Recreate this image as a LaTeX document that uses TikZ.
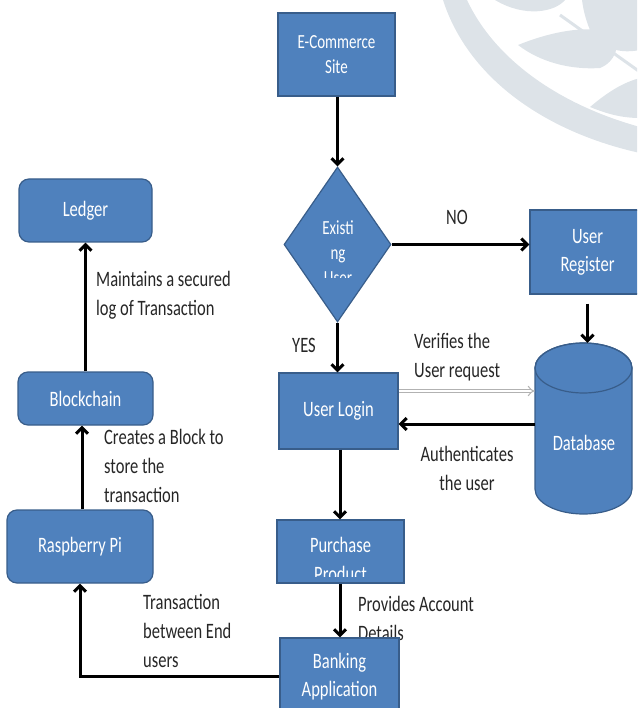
\documentclass[tikz,border=0pt]{standalone}
\usepackage{fontspec}
\setmainfont{Carlito}[FakeStretch=0.75]
\usetikzlibrary{shapes.geometric,arrows.meta}
\definecolor{boxblue}{RGB}{79,129,189}
\definecolor{boxedge}{RGB}{56,93,138}
\definecolor{wm}{RGB}{221,227,232}
\definecolor{labelc}{RGB}{38,38,38}
\tikzset{
  x=1pt,y=-1pt,
  sq/.style={rectangle,fill=boxblue,draw=boxedge,line width=1.2pt,text=white,align=center,inner sep=0pt,
     font=\fontsize{22}{28}\selectfont},
  rr/.style={sq,rounded corners=10pt},
  lbl/.style={text=labelc,inner sep=0pt,font=\fontsize{22}{29}\selectfont},
  arr/.style={line width=3pt,-{Straight Barb[length=6pt,width=12pt]}},
  ghost/.style={draw=black!30,double=white,double distance=2.6pt,line width=1pt,-{Implies[length=8pt,width=12pt]}}
}
\begin{document}
\begin{tikzpicture}
\useasboundingbox (0,0) rectangle (637,708);
\clip (0,0) rectangle (637,708);
% watermark
\fill[wm] (467,0) .. controls (495,60) and (560,105) .. (640,127)
   -- (640,153) .. controls (545,132) and (468,78) .. (443,0) -- cycle;
\fill[wm] (518,45) .. controls (550,32) and (585,25) .. (612,32)
   .. controls (622,45) and (615,62) .. (600,68) .. controls (570,70) and (540,62) .. (518,45) -- cycle;
\fill[wm] (590,107) .. controls (610,90) and (625,82) .. (640,78) -- (640,118) .. controls (620,118) and (605,113) .. (590,107) -- cycle;
\fill[wm] (495,0) -- (565,0) .. controls (555,12) and (525,18) .. (495,0) -- cycle;
\fill[wm] (582,0) -- (640,0) -- (640,50) .. controls (615,55) and (598,45) .. (590,30) .. controls (585,18) and (583,8) .. (582,0) -- cycle;
\draw[wm,line width=3pt] (560,15) -- (640,72);

% nodes
\node[sq,minimum width=117,minimum height=83,font=\fontsize{20}{25}\selectfont] (ecom) at (336.5,54.5) {E-Commerce\\Site};
\node[diamond,fill=boxblue,draw=boxedge,line width=1.2pt,inner sep=0pt,minimum width=107,minimum height=155] (dia) at (337.5,244.5) {};
\begin{scope}
  \clip (280,200) rectangle (395,277);
  \node[text=white,align=center,inner sep=0pt,font=\fontsize{20}{25}\selectfont] (diatext) at (338,253) {Existi\\ng\\User};
\end{scope}
\node[sq,minimum width=115,minimum height=84] (reg) at (587.5,252) {User\\Register};
% database cylinder
\filldraw[fill=boxblue,draw=boxedge,line width=1.2pt]
  (535,368) -- (535,489) arc[start angle=180,end angle=360,x radius=48.5pt,y radius=25pt]
  -- (632,368) arc[start angle=0,end angle=180,x radius=48.5pt,y radius=25pt] -- cycle;
\draw[boxedge,line width=1.2pt] (583.5,368) ellipse[x radius=48.5pt,y radius=25pt];
\node[inner sep=0pt,minimum width=97,minimum height=171] (db) at (583.5,428.5) {};
\node[text=white,inner sep=0pt,font=\fontsize{22}{28}\selectfont] (dbtext) at (584,443) {Database};
\node[sq,minimum width=119,minimum height=76] (login) at (338.5,411) {User Login};

% labels (drawn before the lower boxes)
\node[lbl] (lno) at (457,217) {NO};
\node[lbl] (lyes) at (304,345) {YES};
\node[lbl,align=left,anchor=west] (lver) at (414,357) {Verifies the\\ User request};
\node[lbl,align=center] (lauth) at (467,468) {Authenticates\\the user};
\node[lbl,align=left,anchor=west] (lprov) at (358,618) {Provides Account\\Details};
\node[lbl,align=left,anchor=west] (ltrans) at (143,631) {Transaction\\between End\\users};
\node[lbl,align=left,anchor=west] (lcreate) at (104,466) {Creates a Block to\\store the\\transaction};
\node[lbl,align=left,anchor=west] (lmaint) at (96,295.5) {Maintains a secured\\log of Transaction};

\node[sq,minimum width=127,minimum height=63] (purch) at (340.5,551.5) {};
\begin{scope}
  \clip (278,521) rectangle (403,576);
  \node[text=white,align=center,inner sep=0pt,font=\fontsize{22}{29}\selectfont] (purchtext) at (340.5,559.5) {Purchase\\Product};
\end{scope}
\node[sq,minimum width=119,minimum height=78] (bank) at (339.5,677) {Banking\\Application};

\node[rr,minimum width=133,minimum height=63] (ledger) at (85.5,210.5) {Ledger};
\node[rr,minimum width=135,minimum height=53] (block) at (85.5,398.5) {Blockchain};
\node[rr,minimum width=146,minimum height=73] (rasp) at (80,546.5) {Raspberry Pi};

% connectors
\draw[arr] (ecom.south -| dia.north) -- (dia.north);
\draw[arr] (dia.east) -- (dia.east -| reg.west);
\draw[arr] (dia.south) -- (dia.south |- login.north);
\draw[arr] ([yshift=-9pt]reg.south) -- (reg.south |- db.north);
\draw[ghost] (login.east |- 0,391) -- (db.west |- 0,391);
\draw[arr] (db.west |- 0,424) -- (login.east |- 0,424);
\draw[arr] (login.south -| 340,0) -- (purch.north -| 340,0);
\draw[arr] (purch.south -| 340,0) -- (bank.north -| 340,0);
\draw[arr] (bank.west |- 0,676) -| (rasp.south);
\draw[arr] (rasp.north -| 82,0) -- (block.south -| 82,0);
\draw[arr] (block.north) -- (ledger.south);
\end{tikzpicture}
\end{document}
